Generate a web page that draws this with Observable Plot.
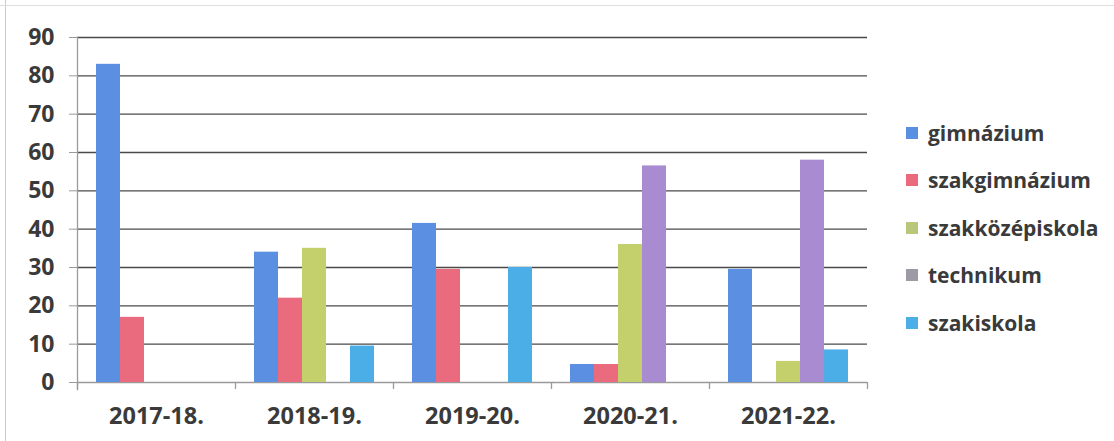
<!DOCTYPE html>
<html>
<head>
<meta charset="utf-8">
<script src="https://cdn.jsdelivr.net/npm/d3@7"></script>
<script src="https://cdn.jsdelivr.net/npm/@observablehq/plot@0.6"></script>
<style>
  body { margin: 0; background: #fff; }
  #wrap { position: relative; width: 1114px; height: 441px; overflow: hidden; }
  #legend { position: absolute; left: 906px; top: 109px; font-family: "Open Sans", Lato, sans-serif; font-weight: bold; font-size: 21px; color: #3a3a3a; }
  #legend .row { display: flex; align-items: center; height: 47.5px; }
  #legend .sw { width: 12px; height: 12px; margin-right: 10px; }
  #frameL { position: absolute; left: 5px; top: 0; width: 1px; height: 441px; background: #ccc; }
  #frameT { position: absolute; left: 0; top: 5px; width: 1114px; height: 1px; background: #ddd; }
</style>
</head>
<body>
<div id="wrap"><div id="frameL"></div><div id="frameT"></div></div>
<script>
const years = ["2017-18.", "2018-19.", "2019-20.", "2020-21.", "2021-22."];
const series = ["gimnázium", "szakgimnázium", "szakközépiskola", "technikum", "szakiskola"];
const colors = ["#5b8fe2", "#ea6a7e", "#c4d06c", "#a98bd1", "#4baee7"];
const legendColors = ["#5b8fe2", "#ea6a7e", "#b9c77a", "#9d9aa6", "#4baee7"];
const gimnazium       = [83, 34, 41.5, 4.7, 29.5];
const szakgimnazium   = [17, 22, 29.5, 4.7, null];
const szakkozep       = [null, 35, null, 36, 5.5];
const technikum       = [null, null, null, 56.5, 58];
const szakiskola      = [null, 9.5, 30, null, 8.5];
const yTicks = [0, 10, 20, 30, 40, 50, 60, 70, 80, 90];

const valuesBySeries = [gimnazium, szakgimnazium, szakkozep, technikum, szakiskola];
const data = [];
years.forEach((y, i) => series.forEach((s, j) => {
  const v = valuesBySeries[j][i];
  if (v != null) data.push({year: y, series: s, value: v});
}));
const lastYear = years[years.length - 1];

const chart = Plot.plot({
  width: 1114,
  height: 441,
  marginLeft: 76,
  marginRight: 247,
  marginTop: 37,
  marginBottom: 59,
  style: {fontFamily: "'Open Sans', Lato, sans-serif", background: "transparent"},
  fx: {domain: years, padding: 0, label: null, axis: null},
  x: {domain: series, paddingInner: 0, paddingOuter: 0.79, axis: null},
  y: {domain: [0, 90], ticks: yTicks, label: null},
  color: {domain: series, range: colors},
  marks: [
    Plot.ruleY(yTicks.filter(t => t > 0), {stroke: "#4a4a4a", strokeWidth: 1.4}),
    Plot.ruleY([0], {stroke: "#9a9a9a", strokeWidth: 1.3}),
    Plot.barY(data, {fx: "year", x: "series", y: "value", fill: "series"}),
    Plot.frame({anchor: "left", stroke: "#9a9a9a", strokeWidth: 1.3, facetAnchor: "left", insetBottom: -7}),
    Plot.ruleX(years, {fx: d => d, x: () => series[0], dx: -31, y1: 0, y2: 0, insetBottom: -7, stroke: "#9a9a9a", strokeWidth: 1.3}),
    Plot.ruleX([lastYear], {fx: d => d, x: () => series[series.length - 1], dx: 31, y1: 0, y2: 0, insetBottom: -7, stroke: "#9a9a9a", strokeWidth: 1.3}),
    Plot.axisY(yTicks, {tickSize: 8, tickPadding: 15, stroke: "#9a9a9a", fontSize: 23, fontWeight: "bold", fill: "#3a3a3a", facetAnchor: "left"}),
    Plot.axisFx({anchor: "bottom", tickSize: 0, tickPadding: 25, fontSize: 23.5, fontWeight: "bold", fill: "#3a3a3a", label: null})
  ]
});
document.getElementById("wrap").appendChild(chart);

const legend = document.createElement("div");
legend.id = "legend";
series.forEach((s, i) => {
  const row = document.createElement("div");
  row.className = "row";
  const sw = document.createElement("span");
  sw.className = "sw";
  sw.style.background = legendColors[i];
  const t = document.createElement("span");
  t.textContent = s;
  row.appendChild(sw); row.appendChild(t);
  legend.appendChild(row);
});
document.getElementById("wrap").appendChild(legend);
</script>
</body>
</html>
